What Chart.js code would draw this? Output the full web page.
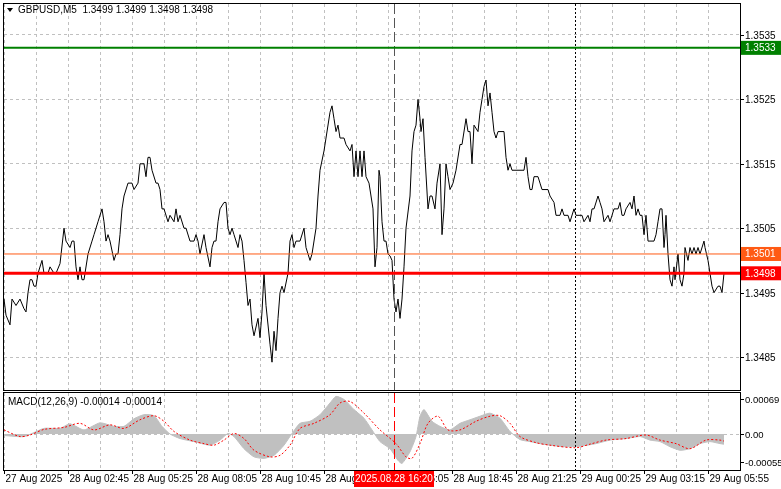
<!DOCTYPE html>
<html><head><meta charset="utf-8">
<script src="https://cdn.jsdelivr.net/npm/chart.js@4/dist/chart.umd.min.js"></script>
<style>
html,body{margin:0;padding:0;background:#fff;width:781px;height:489px;overflow:hidden}
#w1{position:absolute;left:0;top:0;width:781px;height:392px}
#w2{position:absolute;left:0;top:392px;width:781px;height:97px}
</style></head><body>
<div id="w1"><canvas id="c1" width="781" height="392"></canvas></div>
<div id="w2"><canvas id="c2" width="781" height="97"></canvas></div>
<script>
const priceBars=[0,1,3,4,6,8,10,11,12,13,14,15,16,17,19,20,22,23,25,26,28,30,31,33,34,35,36,37,38,39,40,42,44,45,47,49,50,51,52,53,55,56,57,58,59,60,62,64,65,67,68,70,71,72,73,74,76,77,78,79,80,82,83,85,86,87,88,90,91,93,94,
95,96,97,98,100,101,103,104,105,106,107,108,110,111,112,113,114,115,117,118,119,120,121,122,123,124,125,127,128,129,130,131,133,134,135,136,137,138,139,140,142,143,144,145,146,148,150,151,153,154,156,157,158,160,161,163,164,165,166,167,168,170,171,173,174,175,176,177,178,179,180,181,182.5,183.5,184.5,185.5,186.5,187.5,188,
189,190,191,192,193,194,195,196,197,198,199,200,201,203,204,205,206,207,208,208.5,209.5,210.5,212,213,214,215.5,216.5,218,219,220,221,222,223,224.5,226,228,229,231,232,233,234,235,237,238,239,240,241,242,243,244,245,246,247,250,251,252,253,254,255,258,260,261,262,263,264,265,267,268,269,271,272,273,275,276,278,279,280,282,283,
285,286,289,290,292,293,294,295,297,298,299,300,302,303,304,305,307,308,309,310,311,313,314,315,316,317,318,319,320,321,322,323,325,326,327,328,329,330,330.5,331,332,333,334,335,335.5,337,338,339,340,340.5,342,343,344,345,346,347,348,350,350.5,352,353,354,355,357,358,359,360];
const priceVals=[1.3494,1.34915,1.3490,1.3494,1.3493,1.3494,1.34925,1.3492,1.3495,1.3497,1.3497,1.3496,1.3496,1.3498,1.3500,1.3498,1.3498,1.3499,1.3498,1.3498,1.34995,1.3505,1.3503,1.3502,1.3503,1.3503,1.3499,1.3497,1.3499,1.3497,1.3497,1.3501,1.3503,1.3504,1.3506,1.3508,1.3506,1.3503,1.3504,1.3503,1.3500,1.3501,1.3501,1.3504,1.3508,1.3510,1.3512,1.3512,1.3511,1.3512,1.3515,1.3515,1.3513,1.3516,1.3516,1.3514,1.3512,1.3512,1.3511,1.3508,1.3508,1.3506,1.3507,1.3506,1.3508,1.3506,1.3507,1.3505,1.3505,1.3503,1.3503,
1.3503,1.3504,1.3503,1.3501,1.3504,1.3502,1.3499,1.3502,1.3503,1.3503,1.3506,1.3508,1.3509,1.3509,1.3505,1.3504,1.3505,1.3504,1.3502,1.3504,1.3503,1.3500,1.34966,1.3493,1.3494,1.3490,1.34883,1.3491,1.3488,1.3492,1.3498,1.3493,1.3487,1.34842,1.3489,1.3486,1.3491,1.3495,1.3496,1.3495,1.3498,1.3503,1.3504,1.3502,1.3503,1.3503,1.3505,1.3502,1.3500,1.3501,1.3505,1.3510,1.3514,1.3517,1.3519,1.3523,1.3524,1.3522,1.3520,1.3521,1.3519,1.3519,1.3518,1.3517,1.3518,1.3513,1.3517,1.3513,1.3517,1.3513,1.3517,1.3513,1.3512,1.3510,1.3508,1.3499,1.3502,1.3514,1.3513,
1.3506,1.3503,1.3503,1.3501,1.35007,1.3500,1.3494,1.3492,1.3494,1.3491,1.3494,1.3499,1.3505,1.3510,1.3517,1.3520,1.3521,1.3525,1.3522,1.3520,1.3522,1.3516,1.3508,1.3510,1.3510,1.3508,1.3512,1.3515,1.3504,1.3508,1.3515,1.3513,1.3511,1.3512,1.3514,1.3518,1.3518,1.3522,1.3520,1.3520,1.3515,1.3521,1.3520,1.3523,1.3525,1.3527,1.3528,1.3524,1.3526,1.3523,1.3520,1.3519,1.3520,1.3520,1.3516,1.3514,1.3515,1.3514,1.3514,1.3514,1.3514,1.3516,1.3513,1.3511,1.3511,1.3513,1.3513,1.3512,1.3511,1.3511,1.3511,1.3510,1.3509,1.3507,1.3507,1.3508,1.3507,1.3507,1.3506,
1.3508,1.3507,1.3507,1.3506,1.3507,1.3506,1.3508,1.3508,1.3510,1.3509,1.3508,1.3506,1.3507,1.3506,1.3507,1.3508,1.3508,1.3509,1.3507,1.3507,1.3508,1.3509,1.3508,1.3510,1.3507,1.3508,1.3507,1.3507,1.3504,1.3507,1.3503,1.3503,1.3503,1.3504,1.3506,1.3508,1.3508,1.3502,1.3504,1.3507,1.3501,1.3497,1.3496,1.3499,1.3497,1.3501,1.3497,1.3496,1.3498,1.3502,1.3500,1.3502,1.3501,1.3502,1.3501,1.3502,1.3501,1.3503,1.3502,1.3500,1.3498,1.3496,1.3495,1.3496,1.3496,1.3495,1.3498];

const histBars=[0,10,20,28,33,40,48,55,60,65,70,75,79,83,88,95,103,108,112,115,120,125,130,135,140,144,148,153,158,163,166,170,175,180,184,188,193,197,199,203,206,208,210,214,218,223,228,233,238,243,248,253,258,263,268,273,280,288,296,303,311,318,323,328,333,338,343,348,353,358,360];
const histVals=[-0.00003,-0.00005,0.00011,0.00011,0.00020,0.00008,0.00022,0.00015,0.00015,0.00030,0.00038,0.00036,0.00015,0.0,-0.00009,-0.00015,-0.00022,-0.00012,0.00001,-0.00005,-0.00029,-0.00045,-0.00048,-0.00042,-0.00022,0.00001,0.00021,0.00025,0.00038,0.00061,0.00074,0.00068,0.00048,0.00031,0.00008,-0.00015,-0.00029,-0.00052,-0.00058,-0.00035,-0.00005,0.00035,0.00048,0.00025,0.00015,0.00008,0.00021,0.00028,0.00035,0.00041,0.00031,0.00005,-0.00011,-0.00015,-0.00019,-0.00022,-0.00025,-0.00024,-0.00019,-0.00012,-0.00009,-0.00005,-0.00012,-0.00015,-0.00025,-0.00032,-0.00029,-0.00019,-0.00015,-0.00019,-0.00020];
const sigBars=[0,8,13,20,30,38,45,53,60,68,75,80,85,93,100,105,110,115,120,125,133,138,143,148,155,163,168,173,180,188,196,201,204,208,212,217,222,228,236,243,248,253,258,266,273,286,293,301,311,321,328,336,343,351,358,360];
const sigVals=[0.00008,-0.00005,-0.00002,0.00009,0.00013,0.00021,0.00008,0.00018,0.00011,0.00028,0.00036,0.00025,0.00005,-0.00012,-0.00019,-0.00022,-0.00012,0.00001,-0.00009,-0.00032,-0.00045,-0.00042,-0.00022,0.00011,0.00021,0.00038,0.00061,0.00064,0.00041,0.00008,-0.00019,-0.00045,-0.00048,-0.00019,0.00021,0.00035,0.00008,0.00008,0.00025,0.00035,0.00036,0.00021,-0.00005,-0.00017,-0.00022,-0.00027,-0.00020,-0.00012,-0.00009,-0.00002,-0.00012,-0.00019,-0.00029,-0.00012,-0.00012,-0.00014];

const priceTicks=[1.3535,1.3525,1.3515,1.3505,1.3495,1.3485];
const macdTicks=[0.00069,0,-0.00055];
const macdTickLabels=['0.00069','0.00','-0.00055'];
const timeLabels=['27 Aug 2025','28 Aug 02:45','28 Aug 05:25','28 Aug 08:05','28 Aug 10:45','28 Aug 13:25','28 Aug 16:05','28 Aug 18:45','28 Aug 21:25','29 Aug 00:25','29 Aug 03:15','29 Aug 05:55'];
const timeLabelBars=[0,32,64,96,128,160,192,224,256,288,320,352];
const levels=[{v:1.3533,c:'#008000',w:2,t:'1.3533'},{v:1.3501,c:'#ff5a14',w:1,t:'1.3501'},{v:1.3498,c:'#ff0000',w:3,t:'1.3498'}];
const crossBar=195, dayBar=285.5, crossLabel='2025.08.28 16:20';
const titleText='GBPUSD,M5  1.3499 1.3499 1.3498 1.3498';
const macdTitle='MACD(12,26,9) -0.00014 -0.00014';

const FONT='"Liberation Sans", Arial, sans-serif';
const F10='10px '+FONT;
Chart.defaults.font.family=FONT; Chart.defaults.font.size=10; Chart.defaults.color='#000';
const xCommon={type:'linear',min:0,max:368,
  ticks:{display:false,stepSize:16},
  grid:{color:'#c0c0c0',drawTicks:false},border:{display:false,dash:[3,3]},
  afterFit:s=>{s.height=0;}};

function vline(ctx,x,top,bot,color,dash){ctx.save();ctx.strokeStyle=color;ctx.lineWidth=1;ctx.setLineDash(dash);ctx.beginPath();ctx.moveTo(Math.round(x)+0.5,top);ctx.lineTo(Math.round(x)+0.5,bot);ctx.stroke();ctx.restore();}

const mainPlug={id:'mainPlug',
 afterDatasetsDraw(ch){
  const ctx=ch.ctx,a=ch.chartArea,x=ch.scales.x,y=ch.scales.y;
  vline(ctx,x.getPixelForValue(dayBar),a.top,a.bottom,'#000',[2,2]);
  vline(ctx,x.getPixelForValue(crossBar),a.top,a.bottom,'#555',[10,4]);
  ctx.save();ctx.strokeStyle='#000';ctx.lineWidth=1;ctx.strokeRect(a.left-0.5,a.top-0.5,a.right-a.left+1,a.bottom-a.top+1);
  ctx.fillStyle='#000';ctx.font=F10;ctx.textBaseline='middle';
  priceTicks.forEach(v=>{const py=Math.round(y.getPixelForValue(v))+0.5;ctx.beginPath();ctx.moveTo(a.right,py);ctx.lineTo(a.right+4,py);ctx.stroke();ctx.fillText(v.toFixed(4),a.right+5,py+1);});
  ctx.restore();
  levels.forEach(l=>{const py=y.getPixelForValue(l.v);ctx.save();ctx.strokeStyle=l.c;ctx.lineWidth=l.w;ctx.beginPath();ctx.moveTo(a.left,py);ctx.lineTo(a.right,py);ctx.stroke();
    ctx.fillStyle=l.c;ctx.fillRect(a.right+1,py-7,40,14);ctx.fillStyle='#fff';ctx.font=F10;ctx.textBaseline='middle';ctx.fillText(l.t,a.right+5,py+0.5);ctx.restore();});
  ctx.save();ctx.fillStyle='#000';ctx.beginPath();ctx.moveTo(7,8);ctx.lineTo(13,8);ctx.lineTo(10,12);ctx.closePath();ctx.fill();
  ctx.font=F10;ctx.textBaseline='middle';ctx.fillText(titleText,18,10);ctx.restore();
 }};

new Chart(document.getElementById('c1'),{type:'line',
 data:{datasets:[{data:priceBars.map((b,i)=>({x:b,y:priceVals[i]})),borderColor:'#000',borderWidth:1,pointRadius:0,tension:0}]},
 options:{responsive:false,animation:false,devicePixelRatio:1,
  layout:{padding:{left:4,top:4,right:0,bottom:2}},
  plugins:{legend:{display:false},tooltip:{enabled:false}},
  scales:{x:xCommon,
   y:{position:'right',min:1.347988,max:1.353981,
    afterBuildTicks:s=>{s.ticks=priceTicks.map(v=>({value:v}));},
    afterFit:s=>{s.width=41;},
    ticks:{display:false},
    grid:{color:'#c0c0c0',drawTicks:false},border:{display:false,dash:[3,3]}}}},
 plugins:[mainPlug]});

const macdPlug={id:'macdPlug',
 beforeDatasetsDraw(ch){const ctx=ch.ctx,a=ch.chartArea,y=ch.scales.y;const py=Math.round(y.getPixelForValue(0))+0.5;
  ctx.save();ctx.strokeStyle='#c0c0c0';ctx.setLineDash([3,3]);ctx.beginPath();ctx.moveTo(a.left,py);ctx.lineTo(a.right,py);ctx.stroke();ctx.restore();},
 afterDatasetsDraw(ch){
  const ctx=ch.ctx,a=ch.chartArea,x=ch.scales.x,y=ch.scales.y;
  vline(ctx,x.getPixelForValue(dayBar),a.top,a.bottom,'#000',[2,2]);
  vline(ctx,x.getPixelForValue(crossBar),a.top,a.bottom,'#ff0000',[10,4]);
  ctx.save();ctx.strokeStyle='#000';ctx.lineWidth=1;ctx.strokeRect(a.left-0.5,a.top-0.5,a.right-a.left+1,a.bottom-a.top+1);
  ctx.fillStyle='#000';ctx.textBaseline='middle';
  ctx.font='9.5px '+FONT;
  macdTicks.forEach((v,i)=>{const py=Math.round(y.getPixelForValue(v))+0.5;ctx.beginPath();ctx.moveTo(a.right,py);ctx.lineTo(a.right+4,py);ctx.stroke();ctx.fillText(macdTickLabels[i],a.right+5,py+1);});
  ctx.font=F10;
  ctx.fillText(macdTitle,8,a.top+9);
  timeLabelBars.forEach((b,i)=>{const px=Math.round(x.getPixelForValue(b))+0.5;ctx.beginPath();ctx.moveTo(px,a.bottom);ctx.lineTo(px,a.bottom+4);ctx.stroke();ctx.fillText(timeLabels[i],px+1,a.bottom+9);});
  const cx=x.getPixelForValue(crossBar);ctx.fillStyle='#ff0000';ctx.fillRect(cx-40,a.bottom+1,80,16);ctx.fillStyle='#fff';ctx.textAlign='center';ctx.fillText(crossLabel,cx,a.bottom+9);
  ctx.restore();
 }};

new Chart(document.getElementById('c2'),{type:'line',
 data:{datasets:[
  {data:sigBars.map((b,i)=>({x:b,y:sigVals[i]})),borderColor:'#ff0000',borderWidth:1,borderDash:[2,2],pointRadius:0,tension:0.3,fill:false},
  {data:histBars.map((b,i)=>({x:b,y:histVals[i]})),borderColor:'#c0c0c0',borderWidth:1,backgroundColor:'#c0c0c0',pointRadius:0,tension:0.2,fill:'origin'}]},
 options:{responsive:false,animation:false,devicePixelRatio:1,
  layout:{padding:{left:4,top:1,right:0,bottom:19}},
  plugins:{legend:{display:false},tooltip:{enabled:false}},
  scales:{x:xCommon,
   y:{position:'right',min:-0.000709,max:0.000807,
    afterBuildTicks:s=>{s.ticks=macdTicks.map(v=>({value:v}));},
    afterFit:s=>{s.width=41;},
    ticks:{display:false},
    grid:{display:false},border:{display:false}}}},
 plugins:[macdPlug]});
</script></body></html>
